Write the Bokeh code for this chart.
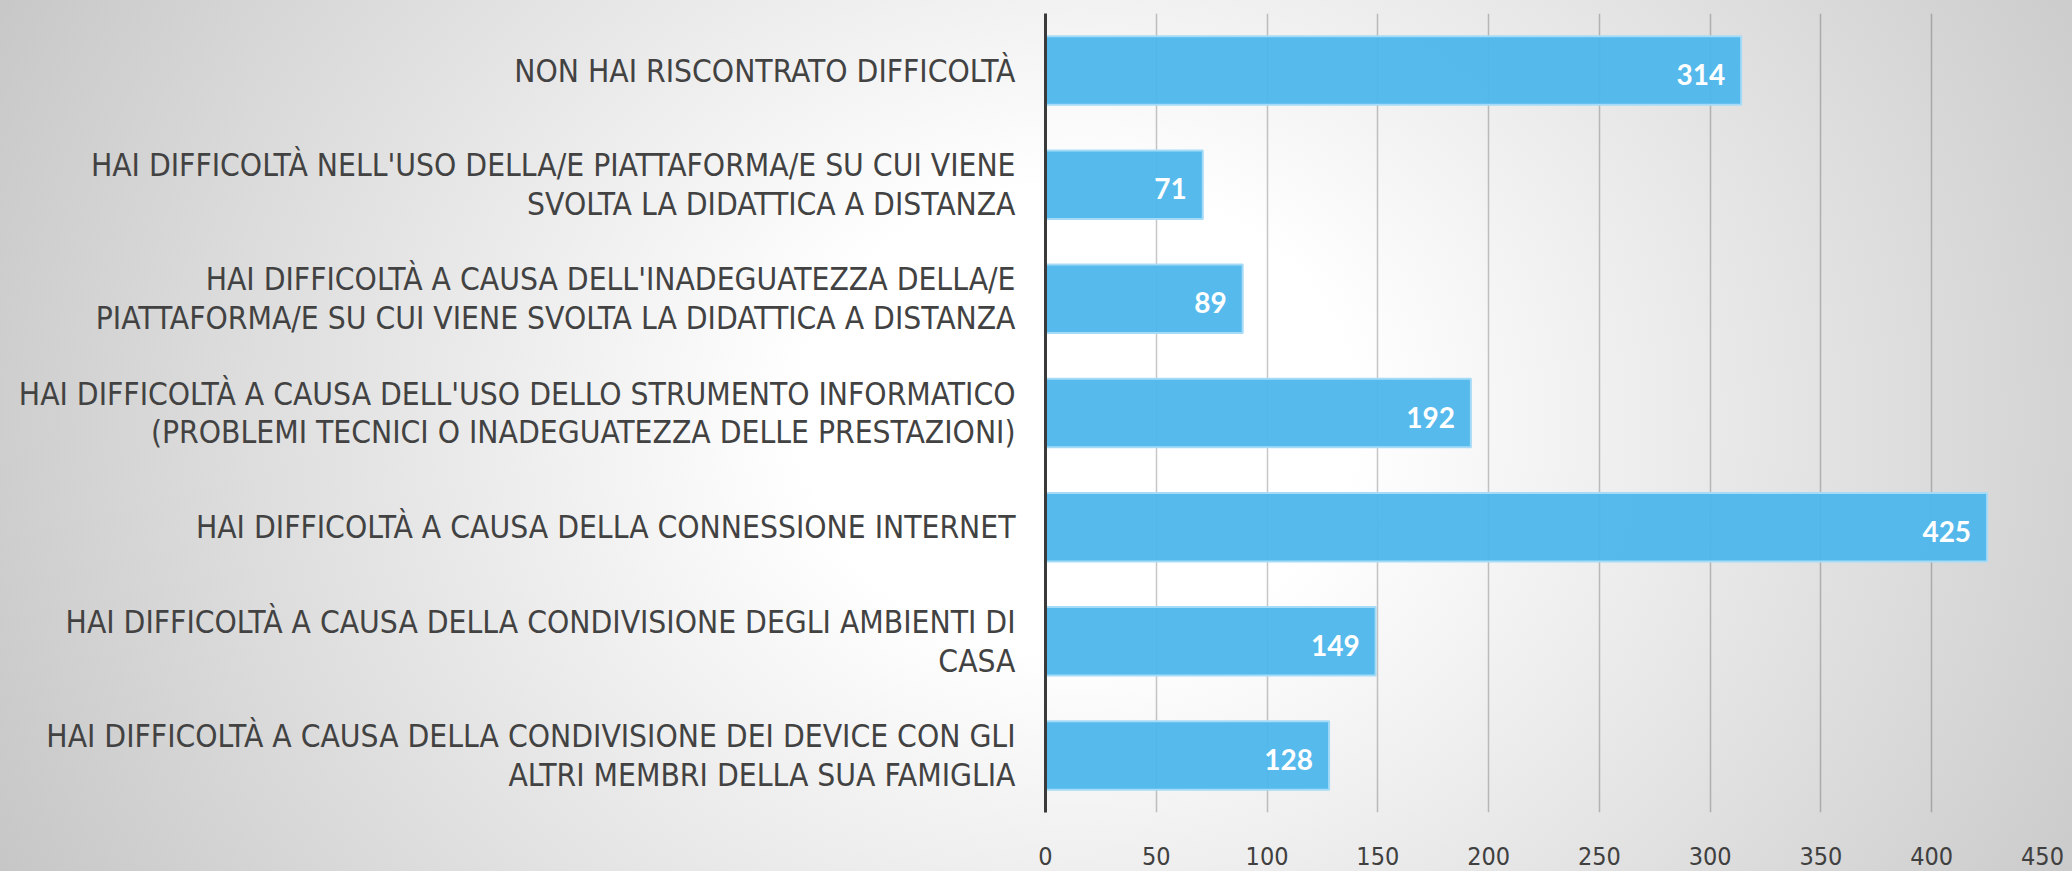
from bokeh.plotting import figure
from bokeh.models import FactorRange, Range1d, ColumnDataSource, FixedTicker
from bokeh.core.properties import value
from bokeh.embed import file_html
from bokeh.resources import INLINE

categories = [
    "NON HAI RISCONTRATO DIFFICOLTÀ",
    "HAI DIFFICOLTÀ NELL'USO DELLA/E PIATTAFORMA/E SU CUI VIENE\nSVOLTA LA DIDATTICA A DISTANZA",
    "HAI DIFFICOLTÀ A CAUSA DELL'INADEGUATEZZA DELLA/E\nPIATTAFORMA/E SU CUI VIENE SVOLTA LA DIDATTICA A DISTANZA",
    "HAI DIFFICOLTÀ A CAUSA DELL'USO DELLO STRUMENTO INFORMATICO\n(PROBLEMI TECNICI O INADEGUATEZZA DELLE PRESTAZIONI)",
    "HAI DIFFICOLTÀ A CAUSA DELLA CONNESSIONE INTERNET",
    "HAI DIFFICOLTÀ A CAUSA DELLA CONDIVISIONE DEGLI AMBIENTI DI\nCASA",
    "HAI DIFFICOLTÀ A CAUSA DELLA CONDIVISIONE DEI DEVICE CON GLI\nALTRI MEMBRI DELLA SUA FAMIGLIA",
]
counts = [314, 71, 89, 192, 425, 149, 128]
x_ticks = [0, 50, 100, 150, 200, 250, 300, 350, 400, 450]

LABEL_FONT = "'Liberation Sans Narrow', 'DejaVu Sans Condensed', 'Liberation Sans', sans-serif"

source = ColumnDataSource(dict(
    cat=categories,
    val=counts,
    txt=[str(v) for v in counts],
))

p = figure(
    width=2072, height=871,
    y_range=FactorRange(factors=categories[::-1], range_padding=0),
    x_range=Range1d(0, 450),
    output_backend="svg", toolbar_location=None,
    min_border_left=1045, min_border_right=30,
    min_border_top=13, min_border_bottom=59,
)
p.styles = {"background": "radial-gradient(ellipse 60% 120% at 52% 48%, #ffffff 22%, #c4c4c4 100%)"}
p.background_fill_alpha = 0
p.border_fill_alpha = 0
p.outline_line_alpha = 0

p.hbar(y="cat", right="val", left=0, height=0.6, source=source,
       fill_color="#4DB6EC", fill_alpha=0.95,
       line_color="#a6dbf7", line_width=2)

p.text(x="val", y="cat", text="txt", source=source,
       x_offset=-16, y_offset=4,
       text_align="right", text_baseline="middle",
       text_color="white", text_font_style="bold",
       text_font_size="28px", text_font=value("Lato"))

# x axis
p.xaxis.ticker = FixedTicker(ticks=x_ticks)
p.xaxis.axis_line_alpha = 0
p.xaxis.major_tick_line_alpha = 0
p.xaxis.minor_tick_line_alpha = 0
p.xaxis.major_label_standoff = 28
p.xaxis.major_label_text_font = LABEL_FONT
p.xaxis.major_label_text_font_size = "25px"
p.xaxis.major_label_text_color = "#404040"

# y axis
p.yaxis.axis_line_color = "#3a3a3a"
p.yaxis.axis_line_width = 3
p.yaxis.major_tick_line_alpha = 0
p.yaxis.minor_tick_line_alpha = 0
p.yaxis.major_label_standoff = 24
p.yaxis.major_label_text_font = LABEL_FONT
p.yaxis.major_label_text_font_size = "31.5px"
p.yaxis.major_label_text_color = "#424242"
p.yaxis.major_label_text_line_height = 1.08
p.yaxis.major_label_text_align = "center"

p.xgrid.ticker = FixedTicker(ticks=x_ticks)
p.xgrid.grid_line_color = "black"
p.xgrid.grid_line_alpha = 0.22
p.xgrid.grid_line_width = 1.5
p.ygrid.grid_line_alpha = 0

open("out.html", "w").write(file_html(p, INLINE))
